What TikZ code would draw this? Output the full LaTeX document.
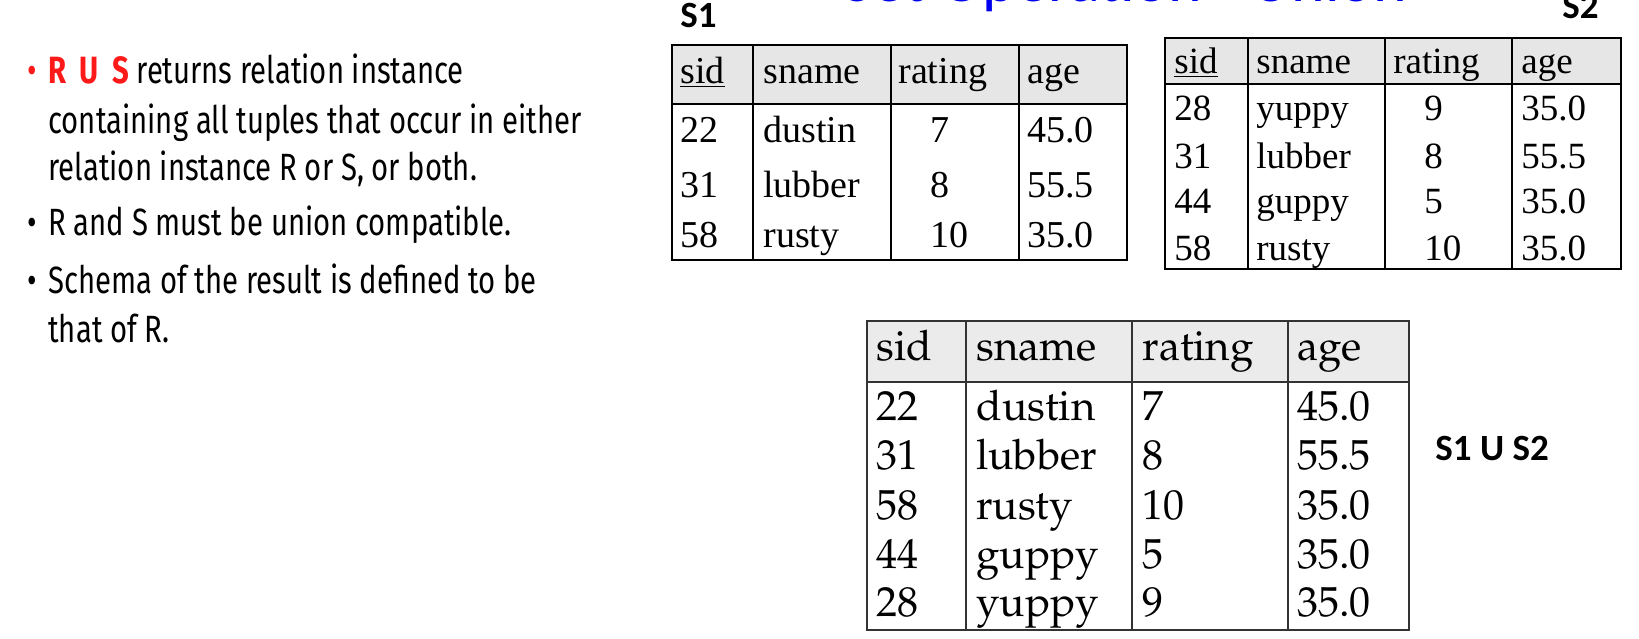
\documentclass[tikz,border=0pt]{standalone}
\usepackage[T1]{fontenc}
\usepackage{fontspec}
\newfontfamily\slidefont[FakeStretch=0.77]{Fira Sans}
\newfontfamily\labelfont{Carlito}
\newfontfamily\timesfont{Liberation Serif}
\newcommand\palafont{\fontencoding{T1}\fontfamily{ppl}\selectfont}
\definecolor{hdrgray}{HTML}{E6E6E6}
\definecolor{unionred}{HTML}{FF1A1A}
\definecolor{titleblue}{HTML}{0000EE}

\begin{document}
\begin{tikzpicture}[x=0.5pt,y=-0.5pt]
				% styles for the slide texts and the table cells
				\tikzset{
				        every node/.style={inner sep=0pt, anchor=base west},
				        bullettext/.style={font=\slidefont\fontsize{19}{23}\selectfont},
				        tablabel/.style={font=\labelfont\bfseries\fontsize{18.5}{22}\selectfont},
				        s1cell/.style={font=\timesfont\fontsize{19}{23}\selectfont},
				        s2cell/.style={font=\timesfont\fontsize{18.5}{22}\selectfont},
				        ucell/.style={font=\palafont\fontsize{21}{25}\selectfont},
				        outer/.style={line width=1.4pt},
				        inner/.style={line width=1pt},
				}
				\useasboundingbox (0,0) rectangle (1639,638);
				% the title, cut by the top of the page
				\node[font=\labelfont\fontsize{32}{36}\selectfont, text=titleblue] (title) at (843,1) {Set Operation - Union};
				% the bullet list on the left
				\node[bullettext, text=unionred] (b1) at (27,83) {\textbullet};
				\node[bullettext] (l1) at (48,83) {\textcolor{unionred}{\bfseries R\hspace{0.35em}U\hspace{0.35em}S} returns relation instance};
				\node[bullettext] (l2) at (48,133) {containing all tuples that occur in either};
				\node[bullettext] (l3) at (48,180) {relation instance R or S, or both.};
				\node[bullettext] (b2) at (27,235) {\textbullet};
				\node[bullettext] (l4) at (48,235) {R and S must be union compatible.};
				\node[bullettext] (b3) at (27,293) {\textbullet};
				\node[bullettext] (l5) at (48,293) {Schema of the result is defined to be};
				\node[bullettext] (l6) at (48,342) {that of R.};
				% table S1
				\node[tablabel] (s1label) at (680,27) {S1};
				\fill[hdrgray] (672,45) rectangle (1127,104);
				\draw[outer] (672,45) rectangle (1127,260);
				\draw[outer] (672,104) -- (1127,104);
				\foreach \x in {753,891,1019} \draw[inner] (\x,45) -- (\x,260);
				\node[s1cell] (s1sid) at (680,83) {\underline{sid}};
				\node[s1cell] (s1sname) at (763,83) {sname};
				\node[s1cell] (s1rating) at (898,83) {rating};
				\node[s1cell] (s1age) at (1027,83) {age};
				\foreach \y/\i/\n/\r/\a in {142/22/dustin/7/45.0, 197/31/lubber/8/55.5, 247/58/rusty/10/35.0}{
				        \node[s1cell] (s1id\i) at (680,\y) {\i};
				        \node[s1cell] (s1n\i) at (763,\y) {\n};
				        \node[s1cell] (s1r\i) at (930,\y) {\r};
				        \node[s1cell] (s1a\i) at (1027,\y) {\a};
				}
				% table S2
				\node[tablabel] (s2label) at (1562,18) {S2};
				\fill[hdrgray] (1165,38) rectangle (1621,84);
				\draw[inner] (1165,38) rectangle (1621,269);
				\draw[inner] (1165,84) -- (1621,84);
				\foreach \x in {1248,1385,1512} \draw[inner] (\x,38) -- (\x,269);
				\node[s2cell] (s2sid) at (1174,73) {\underline{sid}};
				\node[s2cell] (s2sname) at (1256,73) {sname};
				\node[s2cell] (s2rating) at (1393,73) {rating};
				\node[s2cell] (s2age) at (1521,73) {age};
				\foreach \y/\i/\n/\r/\a in {120/28/yuppy/9/35.0, 168/31/lubber/8/55.5, 213/44/guppy/5/35.0, 260/58/rusty/10/35.0}{
				        \node[s2cell] (s2id\i) at (1174,\y) {\i};
				        \node[s2cell] (s2n\i) at (1256,\y) {\n};
				        \node[s2cell] (s2r\i) at (1424,\y) {\r};
				        \node[s2cell] (s2a\i) at (1521,\y) {\a};
				}
				% the union S1 U S2
				\node[tablabel] (ulabel) at (1435,460) {S1 U S2};
				\fill[hdrgray!80] (867,321) rectangle (1409,382);
				\draw[inner, black!80] (867,321) rectangle (1409,630);
				\draw[inner, black!80] (867,382) -- (1409,382);
				\foreach \x in {966,1132,1288} \draw[inner, black!80] (\x,321) -- (\x,630);
				\node[ucell] (usid) at (876,360) {sid};
				\node[ucell] (usname) at (976,360) {sname};
				\node[ucell] (urating) at (1142,360) {rating};
				\node[ucell] (uage) at (1297,360) {age};
				\foreach \y/\i/\n/\r/\a in {420/22/dustin/7/45.0, 469/31/lubber/8/55.5, 519/58/rusty/10/35.0, 568/44/guppy/5/35.0, 616/28/yuppy/9/35.0}{
				        \node[ucell] (uid\i) at (876,\y) {\i};
				        \node[ucell] (un\i) at (976,\y) {\n};
				        \node[ucell] (ur\i) at (1142,\y) {\r};
				        \node[ucell] (ua\i) at (1297,\y) {\a};
				}
\end{tikzpicture}
\end{document}
